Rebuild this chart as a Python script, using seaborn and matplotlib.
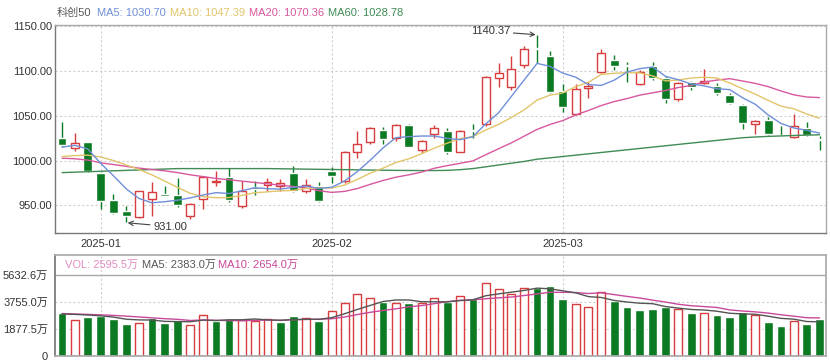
import numpy as np
import pandas as pd
import matplotlib
matplotlib.use('Agg')
import matplotlib.pyplot as plt
import seaborn as sns

sns.set_theme(style='white')
plt.rcParams['font.family'] = ['Liberation Sans', 'Noto Sans CJK SC']

# K线数据 (科创50, 2024-12-27 ~ 2025-03-31)
opens = [1025.6, 1014.5, 1020.5, 986.6, 956.2, 943.2, 937.0, 957.0, 961.5, 961.4,
         937.6, 957.3, 975.8, 981.1, 948.8, 969.5, 972.2, 971.0, 986.6, 965.5,
         971.8, 988.5, 976.6, 1010.0, 1021.2, 1034.2, 1025.6, 1039.8, 1011.9, 1029.4,
         1033.0, 1010.0, 1034.0, 1040.5, 1091.8, 1082.4, 1107.3, 1126.0, 1116.6, 1077.6,
         1051.7, 1080.6, 1099.1, 1112.9, 1106.5, 1085.0, 1105.8, 1092.4, 1069.0, 1088.0,
         1086.2, 1083.2, 1073.2, 1062.0, 1040.9, 1045.3, 1028.3, 1026.7, 1036.0, 1023.5]
highs = [1042.8, 1030.5, 1021.0, 987.0, 962.9, 948.8, 966.0, 975.5, 971.8, 980.4,
         953.0, 982.5, 987.8, 991.5, 976.6, 976.6, 980.0, 979.3, 994.1, 979.3,
         975.5, 993.3, 1011.0, 1033.4, 1037.0, 1037.9, 1040.5, 1041.0, 1023.0, 1039.4,
         1036.0, 1034.0, 1040.5, 1095.0, 1108.5, 1117.0, 1128.0, 1140.37, 1122.0, 1085.0,
         1086.0, 1088.0, 1124.4, 1117.7, 1110.2, 1101.0, 1110.2, 1094.0, 1088.0, 1089.0,
         1101.8, 1086.7, 1075.8, 1063.0, 1045.5, 1048.3, 1038.6, 1052.0, 1043.4, 1027.5]
lows = [1015.6, 1011.1, 987.0, 945.9, 940.5, 931.0, 936.0, 937.6, 960.0, 948.5,
        935.0, 946.2, 971.0, 954.0, 947.0, 961.8, 966.0, 966.0, 965.0, 964.0,
        954.0, 974.8, 975.0, 1002.6, 1018.0, 1018.3, 1022.0, 1015.0, 1008.0, 1025.0,
        1007.0, 1009.0, 1025.0, 1039.0, 1082.4, 1078.7, 1103.0, 1108.5, 1075.0, 1054.0,
        1051.0, 1069.5, 1098.0, 1100.8, 1088.0, 1084.0, 1090.0, 1063.9, 1067.0, 1078.7,
        1085.5, 1073.0, 1063.0, 1035.0, 1029.7, 1028.0, 1027.0, 1025.0, 1027.0, 1011.9]
closes = [1017.5, 1019.4, 987.8, 954.3, 941.4, 938.4, 965.5, 964.4, 960.5, 949.9,
          951.4, 981.5, 977.0, 955.5, 965.5, 968.5, 975.9, 974.8, 965.5, 972.9,
          955.1, 982.2, 1010.0, 1018.3, 1036.0, 1023.8, 1039.8, 1015.6, 1021.9, 1036.0,
          1010.0, 1033.0, 1032.5, 1093.5, 1098.0, 1101.8, 1125.2, 1124.5, 1076.8, 1060.1,
          1079.5, 1083.2, 1120.3, 1105.8, 1105.3, 1099.1, 1091.8, 1068.4, 1086.9, 1081.7,
          1088.8, 1075.0, 1063.9, 1041.6, 1044.5, 1029.7, 1027.5, 1038.6, 1028.6, 1022.5]

# 均线
ma5 = [1015.0, 1017.0, 1013.0, 997.0, 983.0, 968.3, 957.5, 952.8, 954.0, 955.7,
       958.3, 961.5, 964.1, 963.1, 966.2, 969.6, 968.5, 968.0, 970.0, 971.5,
       968.8, 970.1, 977.1, 987.7, 1000.3, 1014.1, 1025.6, 1026.7, 1027.4, 1027.4,
       1024.7, 1023.3, 1026.7, 1041.0, 1053.4, 1071.8, 1090.2, 1108.6, 1105.3, 1097.7,
       1093.2, 1084.8, 1084.0, 1089.8, 1098.8, 1102.7, 1104.5, 1094.1, 1090.3, 1085.6,
       1083.5, 1080.2, 1079.3, 1070.2, 1062.8, 1050.9, 1041.4, 1036.4, 1033.8, 1030.70]
ma10 = [1004.5, 1005.5, 1006.0, 1004.0, 1000.0, 995.0, 990.0, 984.0, 977.0, 969.9,
        963.3, 959.5, 958.4, 958.6, 961.0, 964.0, 965.0, 966.1, 966.6, 968.9,
        969.2, 969.3, 972.6, 978.9, 985.9, 991.5, 997.8, 1001.9, 1007.6, 1013.9,
        1019.4, 1024.4, 1026.7, 1034.2, 1040.4, 1048.2, 1056.8, 1067.6, 1073.1, 1075.5,
        1082.5, 1087.5, 1096.3, 1097.5, 1098.3, 1098.0, 1094.6, 1089.0, 1090.0, 1092.2,
        1093.1, 1092.3, 1086.7, 1080.3, 1074.2, 1067.2, 1060.8, 1057.8, 1052.0, 1047.39]
ma20 = [1002.6, 1002.0, 1000.5, 997.5, 995.5, 993.5, 991.5, 990.0, 988.5, 986.5,
        984.0, 982.0, 980.0, 978.5, 977.0, 975.5, 974.0, 972.5, 971.0, 969.4,
        966.3, 964.4, 965.5, 968.7, 973.4, 977.7, 981.4, 984.0, 987.1, 991.4,
        994.3, 996.9, 999.6, 1006.5, 1013.2, 1019.8, 1027.3, 1034.8, 1040.3, 1044.7,
        1050.9, 1056.0, 1061.5, 1065.9, 1069.3, 1073.1, 1075.7, 1078.3, 1081.6, 1083.9,
        1087.8, 1089.9, 1091.5, 1088.9, 1086.2, 1082.6, 1077.7, 1073.4, 1071.0, 1070.36]
ma60 = [986.5, 987.0, 987.5, 988.0, 988.5, 989.0, 989.5, 990.0, 990.5, 991.0,
        991.0, 991.0, 991.0, 991.0, 991.0, 991.0, 991.0, 990.8, 990.6, 990.4,
        990.2, 990.0, 989.8, 989.6, 989.4, 989.2, 989.0, 988.9, 988.8, 988.8,
        989.0, 989.8, 991.0, 993.0, 995.0, 997.0, 999.0, 1001.5, 1003.0, 1004.5,
        1006.0, 1007.5, 1009.0, 1010.5, 1012.0, 1013.5, 1015.0, 1016.5, 1018.0, 1019.5,
        1021.0, 1022.5, 1024.0, 1025.5, 1026.3, 1027.0, 1027.5, 1028.0, 1028.4, 1028.78]

# 成交量 (万)
volume = [2978, 2534, 2699, 2770, 2582, 2230, 2300, 2652, 2300, 2512,
          2182, 2886, 2464, 2582, 2512, 2464, 2558, 2347, 2793, 2652,
          2417, 3168, 3684, 4294, 4060, 3778, 3707, 3684, 3684, 4036,
          3754, 4154, 3966, 5090, 4693, 4341, 4763, 4763, 4858, 3989,
          3637, 3450, 4459, 3825, 3450, 3215, 3285, 3450, 3285, 2980,
          3027, 2863, 2746, 3050, 2863, 2347, 2112, 2464, 2230, 2595.5]
vol_ma5 = [2934, 2900, 2860, 2800, 2713, 2563, 2516, 2507, 2413, 2399,
           2389, 2506, 2469, 2525, 2525, 2582, 2516, 2493, 2535, 2563,
           2553, 2675, 2943, 3243, 3525, 3797, 3905, 3905, 3783, 3778,
           3773, 3862, 3919, 4200, 4331, 4449, 4571, 4730, 4684, 4543,
           4402, 4139, 4079, 3872, 3764, 3680, 3647, 3445, 3337, 3243,
           3205, 3121, 2980, 2933, 2910, 2774, 2624, 2567, 2403, 2383]
vol_ma10 = [2960, 2930, 2900, 2870, 2830, 2780, 2720, 2660, 2600, 2556,
            2476, 2511, 2488, 2469, 2462, 2485, 2511, 2481, 2530, 2544,
            2568, 2596, 2718, 2889, 3044, 3175, 3290, 3424, 3513, 3651,
            3785, 3884, 3912, 3991, 4055, 4111, 4217, 4324, 4442, 4437,
            4425, 4355, 4404, 4278, 4154, 4041, 3893, 3762, 3605, 3504,
            3443, 3384, 3213, 3135, 3076, 2990, 2872, 2774, 2668, 2654]

month_pos = [3, 21, 39]
month_labels = ['2025-01', '2025-02', '2025-03']

RED = '#d83c3c'
GREEN = '#0b7a22'
C_MA5 = '#6f8fd8'
C_MA10 = '#e2c46a'
C_MA20 = '#d8589e'
C_MA60 = '#3f8c55'

df = pd.DataFrame({'open': opens, 'high': highs, 'low': lows, 'close': closes,
                   'vol': volume})
df['x'] = np.arange(len(df))
df['up'] = df['close'] >= df['open']
prev = df['close'].shift(1).fillna(df['open'])
df['vol_up'] = df['close'] > prev

W, H = 830, 362
fig = plt.figure(figsize=(W / 100, H / 100), dpi=100)
ax = fig.add_axes([55 / W, 1 - 233 / H, (826 - 55) / W, (233 - 25) / H])
axv = fig.add_axes([55 / W, 1 - 356 / H, (826 - 55) / W, (356 - 255) / H])

# 蜡烛图
up = df[df['up']]
dn = df[~df['up']]
ax.vlines(dn['x'], dn['low'], dn['high'], color=GREEN, lw=1, zorder=2)
ax.bar(dn['x'], np.maximum(dn['open'] - dn['close'], 1.6), bottom=dn['close'],
       width=0.68, color=GREEN, zorder=2)
body_top = np.maximum(up['open'], up['close'])
body_bot = np.minimum(up['open'], up['close'])
ax.vlines(up['x'], body_top, up['high'], color=RED, lw=1, zorder=2)
ax.vlines(up['x'], up['low'], body_bot, color=RED, lw=1, zorder=2)
ax.bar(up['x'], np.maximum(up['close'] - up['open'], 1.0), bottom=up['open'],
       width=0.62, facecolor='white', edgecolor=RED, lw=1, zorder=2)

for vals, col in [(ma60, C_MA60), (ma20, C_MA20), (ma10, C_MA10), (ma5, C_MA5)]:
    sns.lineplot(x=df['x'], y=vals, ax=ax, color=col, lw=1, legend=False, zorder=3)

ax.set_xlim(-0.55, 59.5)
ax.set_ylim(919, 1151.5)
yt = [950, 1000, 1050, 1100, 1150]
ax.set_yticks(yt)
ax.set_yticklabels([f'{v:.2f}' for v in yt])
ax.set_xticks(month_pos)
ax.set_xticklabels(month_labels)
ax.grid(True, color='#cfcfcf', lw=0.8, linestyle=(0, (2, 2)))
ax.tick_params(axis='both', length=0, labelsize=8, colors='#333333')
ax.tick_params(axis='y', pad=2)
ax.tick_params(axis='x', pad=4)
ax.set_xlabel('')
ax.set_ylabel('')
for s in ['top', 'right']:
    ax.spines[s].set_color('#aaaaaa')
for s in ['left', 'bottom']:
    ax.spines[s].set_color('#777777')
for s in ax.spines.values():
    s.set_linewidth(1)

# 最高/最低标注
ax.annotate('1140.37', xy=(37, 1140.6), xytext=(34.9, 1144.4), ha='right', va='center',
            fontsize=8, color='#333333',
            arrowprops=dict(arrowstyle='->', color='#444444', lw=0.8, shrinkA=0, shrinkB=1))
ax.annotate('931.00', xy=(5, 930.5), xytext=(7.1, 926.2), ha='left', va='center',
            fontsize=8, color='#333333',
            arrowprops=dict(arrowstyle='->', color='#444444', lw=0.8, shrinkA=0, shrinkB=1))

# 成交量
vu = df[df['vol_up']]
vd = df[~df['vol_up']]
axv.bar(vd['x'], vd['vol'], width=0.68, color=GREEN, zorder=2)
axv.bar(vu['x'], vu['vol'], width=0.62, facecolor='white', edgecolor=RED, lw=1, zorder=2)
sns.lineplot(x=df['x'], y=vol_ma10, ax=axv, color='#c9489b', lw=1, legend=False, zorder=3)
sns.lineplot(x=df['x'], y=vol_ma5, ax=axv, color='#555555', lw=1, legend=False, zorder=3)
axv.set_xlim(-0.55, 59.5)
axv.set_ylim(0, 7040)
axv.set_yticks([0, 1877.5, 3755.0, 5632.6])
axv.set_yticklabels(['0', '1877.5万', '3755.0万', '5632.6万'])
axv.set_xticks(month_pos)
axv.set_xticklabels([])
axv.grid(True, color='#cfcfcf', lw=0.8, linestyle=(0, (2, 2)))
axv.axhline(5632.6, color='#aaaaaa', lw=1, zorder=1)
axv.tick_params(axis='both', length=0, labelsize=8, colors='#333333')
axv.tick_params(axis='y', pad=5)
axv.set_xlabel('')
axv.set_ylabel('')
for s in ['top', 'right', 'bottom']:
    axv.spines[s].set_color('#aaaaaa')
axv.spines['left'].set_color('#777777')

# 图例文字
def put(x, y, s, c):
    fig.text(x / W, 1 - y / H, s, color=c, fontsize=8, ha='left', va='center')

put(57, 13, '科创50', '#555555')
put(97, 13, f'MA5: {ma5[-1]:.2f}', C_MA5)
put(170, 13, f'MA10: {ma10[-1]:.2f}', C_MA10)
put(249, 13, f'MA20: {ma20[-1]:.2f}', C_MA20)
put(328, 13, f'MA60: {ma60[-1]:.2f}', C_MA60)
put(65, 265, f'VOL: {volume[-1]:.1f}万', '#e28cc2')
put(142, 265, f'MA5: {vol_ma5[-1]:.1f}万', '#555555')
put(218, 265, f'MA10: {vol_ma10[-1]:.1f}万', '#c9489b')

fig.savefig('out.png', dpi=100)
